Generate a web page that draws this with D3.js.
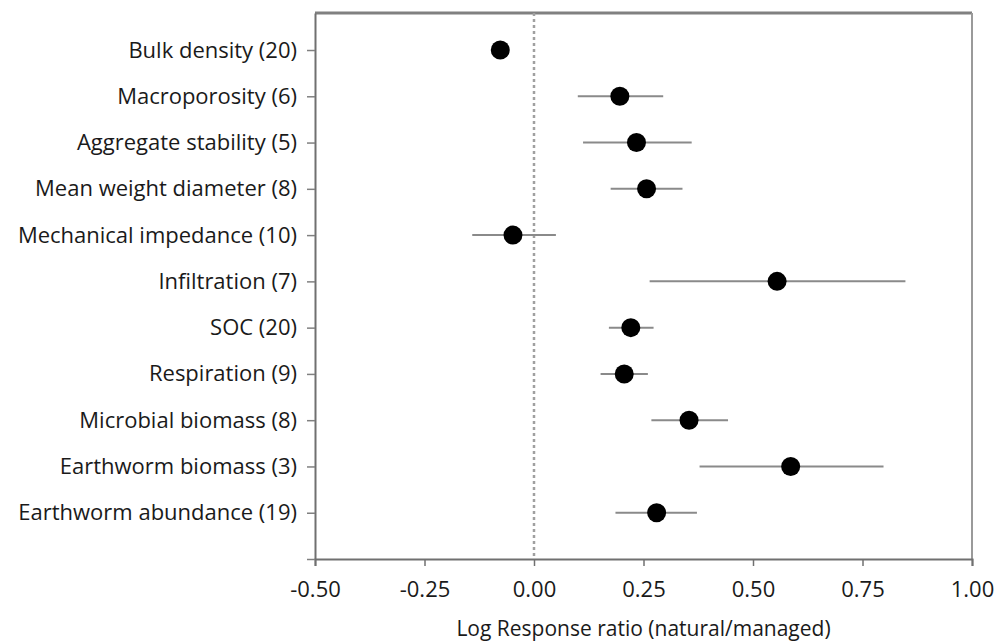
<!DOCTYPE html>
<html>
<head>
<meta charset="utf-8">
<script src="https://cdn.jsdelivr.net/npm/d3@7"></script>
<style>
  body { margin: 0; background: #fff; }
  text { font-family: "Open Sans", Lato, sans-serif; fill: #1a1a1a; }
</style>
</head>
<body>
<div id="chart"></div>
<script>
// categories listed top to bottom, with number of studies in brackets
var categories = [
  "Bulk density (20)",
  "Macroporosity (6)",
  "Aggregate stability (5)",
  "Mean weight diameter (8)",
  "Mechanical impedance (10)",
  "Infiltration (7)",
  "SOC (20)",
  "Respiration (9)",
  "Microbial biomass (8)",
  "Earthworm biomass (3)",
  "Earthworm abundance (19)"
];
var meanRatio = [-0.077, 0.196, 0.234, 0.257, -0.048, 0.555, 0.221, 0.206, 0.354, 0.586, 0.280];
var lowerCI   = [-0.085, 0.100, 0.112, 0.175, -0.141, 0.264, 0.171, 0.152, 0.268, 0.378, 0.186];
var upperCI   = [-0.070, 0.295, 0.360, 0.339,  0.050, 0.848, 0.273, 0.260, 0.443, 0.798, 0.372];
var xTicks = [-0.5, -0.25, 0, 0.25, 0.5, 0.75, 1.0];

var width = 1000, height = 644;
var margin = { top: 13, right: 28, bottom: 85, left: 315 };
var fontSize = 22;

var svg = d3.select("#chart").append("svg")
  .attr("width", width)
  .attr("height", height);

var x = d3.scaleLinear()
  .domain([-0.5, 1.0])
  .range([margin.left, width - margin.right]);

// category position: top row = 11, bottom row = 1, axis runs 0..11.8
var y = d3.scaleLinear()
  .domain([0, 11.8])
  .range([height - margin.bottom, margin.top]);

var n = categories.length;
var rows = categories.map(function (c, i) {
  return { label: c, pos: n - i, mean: meanRatio[i], lo: lowerCI[i], hi: upperCI[i] };
});

// top and right frame
svg.append("line")
  .attr("x1", x(-0.5)).attr("x2", x(1.0))
  .attr("y1", y(11.8)).attr("y2", y(11.8))
  .attr("stroke", "#808080").attr("stroke-width", 3);
svg.append("line")
  .attr("x1", x(1.0)).attr("x2", x(1.0))
  .attr("y1", y(11.8)).attr("y2", y(0))
  .attr("stroke", "#9a9a9a").attr("stroke-width", 2);

// zero reference line
svg.append("line")
  .attr("x1", x(0)).attr("x2", x(0))
  .attr("y1", y(11.8)).attr("y2", y(0))
  .attr("stroke", "#a0a0a0")
  .attr("stroke-width", 2.5)
  .attr("stroke-dasharray", "3,3");

// x axis (plain hyphen for negatives, as in the original)
var fmt = d3.format(".2f");
var xAxis = svg.append("g")
  .attr("transform", "translate(0," + y(0) + ")")
  .call(d3.axisBottom(x)
    .tickValues(xTicks)
    .tickFormat(function (d) { return fmt(d).replace("\u2212", "-"); })
    .tickSize(7).tickPadding(15));
xAxis.select(".domain").attr("stroke", "#707070").attr("stroke-width", 2);
xAxis.selectAll(".tick line").attr("stroke", "#707070").attr("stroke-width", 1.5);
xAxis.selectAll(".tick text").attr("font-size", fontSize).style("font-family", "'Open Sans', sans-serif").attr("fill", "#1a1a1a");

// y axis
var yAxis = svg.append("g")
  .attr("transform", "translate(" + x(-0.5) + ",0)")
  .call(d3.axisLeft(y)
    .tickValues(d3.range(0, n + 1))
    .tickFormat(function (d) { return d === 0 ? "" : categories[n - d]; })
    .tickSize(8).tickPadding(10)
    .tickSizeOuter(0));
yAxis.select(".domain").attr("stroke", "#707070").attr("stroke-width", 2);
yAxis.selectAll(".tick line").attr("stroke", "#808080").attr("stroke-width", 1.5);
yAxis.selectAll(".tick text").attr("font-size", fontSize).style("font-family", "'Open Sans', sans-serif").attr("fill", "#1a1a1a");

// error bars
svg.selectAll("line.ci")
  .data(rows)
  .enter().append("line")
  .attr("class", "ci")
  .attr("x1", function (d) { return x(d.lo); })
  .attr("x2", function (d) { return x(d.hi); })
  .attr("y1", function (d) { return y(d.pos); })
  .attr("y2", function (d) { return y(d.pos); })
  .attr("stroke", "#8a8a8a")
  .attr("stroke-width", 2);

// means
svg.selectAll("circle.mean")
  .data(rows)
  .enter().append("circle")
  .attr("class", "mean")
  .attr("cx", function (d) { return x(d.mean); })
  .attr("cy", function (d) { return y(d.pos); })
  .attr("r", 9.5)
  .attr("fill", "#000");

// axis title
svg.append("text")
  .attr("x", (x(-0.5) + x(1.0)) / 2)
  .attr("y", 636)
  .attr("text-anchor", "middle")
  .attr("font-size", 21)
  .text("Log Response ratio (natural/managed)");
</script>
</body>
</html>
